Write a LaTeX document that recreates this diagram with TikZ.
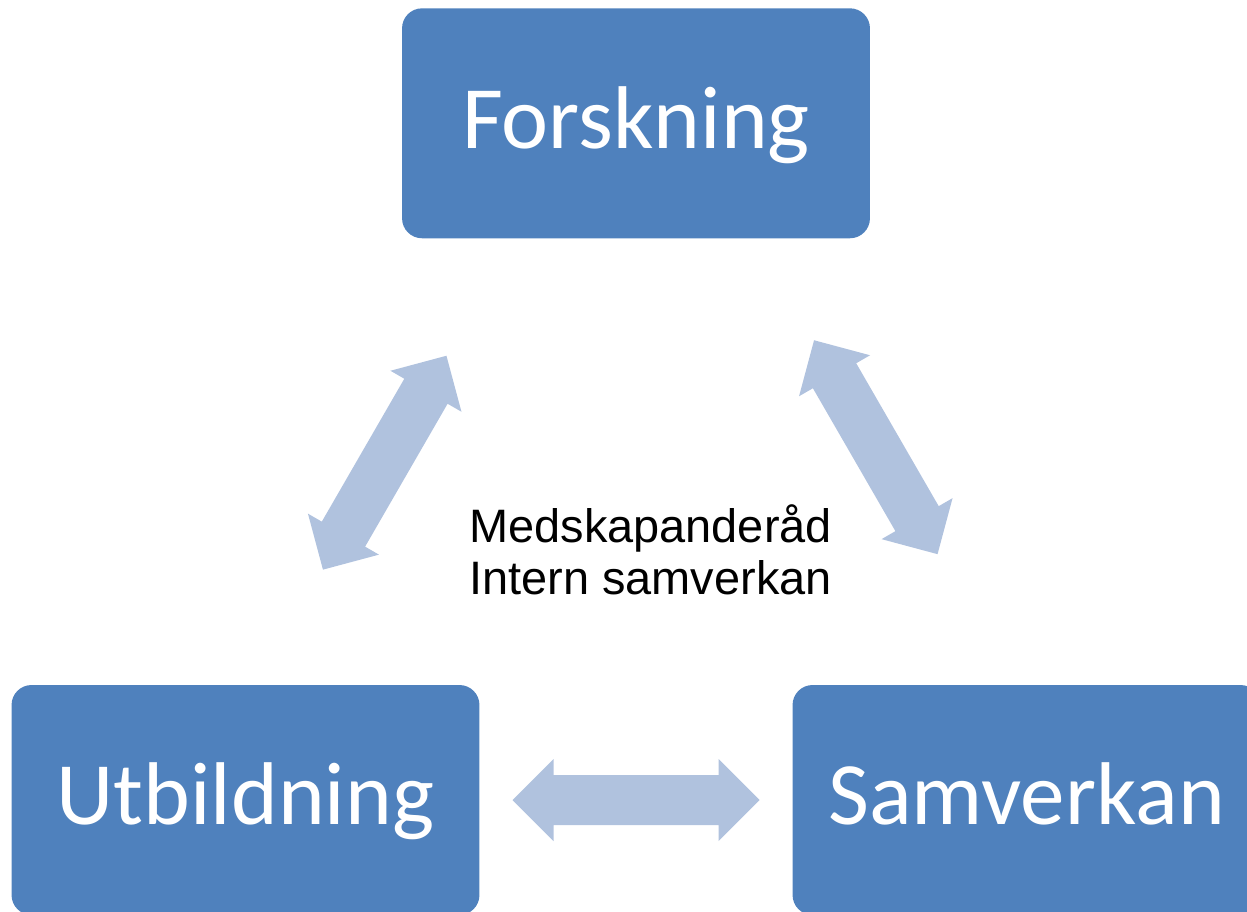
\documentclass[tikz,border=0pt]{standalone}
\usepackage{fontspec}
\setmainfont{Liberation Sans}
\newfontfamily\boxfont{Carlito}
\usepackage{tikz}
\usetikzlibrary{positioning}

\definecolor{boxblue}{HTML}{4F81BD}
\definecolor{arrowblue}{HTML}{B0C2DE}

\begin{document}
\begin{tikzpicture}[x=0.02cm, y=-0.02cm,
        box/.style={rectangle, rounded corners=0.4cm, fill=boxblue, text=white,
            minimum width=9.36cm, minimum height=4.6cm, inner sep=0pt,
            font=\boxfont\fontsize{50.7}{60}\selectfont, text height=38pt, text depth=9.7pt},
        fat/.style={fill=arrowblue}]
    \path[use as bounding box, clip] (0,0) rectangle (1247,912);
    \node[box] (F) at (636,123.3) {Forskning};
    \node[box] (U) at (245.5,800) {Utbildning};
    \node[box] (S) at (1026.5,800) {Samverkan};
    \node[anchor=base west, align=left, inner sep=0pt,
        font=\fontsize{26.7}{29.1}\selectfont] (M) at (469,594) {Medskapanderåd\\Intern samverkan};
    \foreach \c/\a in {{(384.7,462.7)}/60, {(875.8,447.2)}/-60, {(636,800)}/0}
        \fill[fat, shift={\c}, rotate=\a] (-123.5,0) -- (-82.5,41) -- (-82.5,25)
            -- (82.5,25) -- (82.5,41) -- (123.5,0) -- (82.5,-41) -- (82.5,-25)
            -- (-82.5,-25) -- (-82.5,-41) -- cycle;
\end{tikzpicture}
\end{document}
